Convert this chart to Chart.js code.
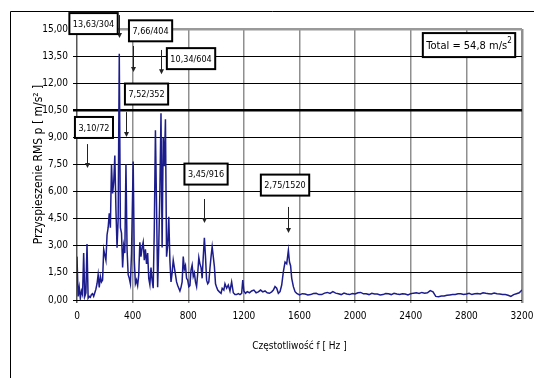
<!DOCTYPE html>
<html>
<head>
<meta charset="utf-8">
<script src="https://cdn.jsdelivr.net/npm/chart.js@4.4.0/dist/chart.umd.min.js"></script>
<style>
  html, body { margin: 0; padding: 0; background: #fff; }
  #wrap { width: 534px; height: 378px; position: relative; }
</style>
</head>
<body>
<div id="wrap"><canvas id="myChart" width="534" height="378"></canvas></div>
<script>
// spectrum: frequency [Hz] and RMS acceleration [m/s2]
var freqHz = [
  0, 8, 16, 24, 32, 40, 48, 56, 64, 72, 80, 88, 96, 104, 112, 120, 128, 136, 144, 152,
  160, 168, 176, 184, 192, 200, 208, 216, 224, 232, 240, 248, 256, 264, 272, 280, 288, 296, 304, 312,
  320, 328, 336, 344, 352, 360, 368, 376, 384, 392, 404, 412, 420, 428, 436, 444, 452, 460, 468, 476,
  484, 492, 500, 508, 516, 524, 532, 540, 548, 556, 564, 572, 580, 588, 596, 604, 612, 620, 628, 636,
  644, 652, 660, 668, 676, 684, 692, 700, 708, 716, 724, 732, 740, 748, 756, 764, 772, 780, 788, 796,
  804, 812, 820, 828, 836, 844, 852, 860, 868, 876, 884, 892, 900, 908, 916, 924, 932, 940, 948, 956,
  964, 972, 980, 988, 996, 1004, 1012, 1024, 1036, 1044, 1056, 1064, 1076, 1088, 1100, 1112, 1124, 1136, 1148, 1160,
  1172, 1184, 1192, 1200, 1212, 1224, 1240, 1256, 1272, 1288, 1304, 1320, 1336, 1352, 1368, 1384, 1400, 1412, 1424, 1436,
  1448, 1460, 1472, 1484, 1496, 1508, 1520, 1528, 1536, 1544, 1556, 1568, 1580, 1600, 1620, 1640, 1660, 1680, 1700, 1720,
  1740, 1760, 1780, 1800, 1820, 1840, 1860, 1880, 1900, 1920, 1940, 1960, 1980, 2000, 2020, 2040, 2060, 2080, 2100, 2120,
  2140, 2160, 2180, 2200, 2220, 2240, 2260, 2280, 2300, 2320, 2340, 2360, 2380, 2400, 2420, 2440, 2460, 2480, 2500, 2520,
  2540, 2560, 2580, 2600, 2620, 2640, 2660, 2680, 2700, 2720, 2740, 2760, 2780, 2800, 2820, 2840, 2860, 2880, 2900, 2920,
  2940, 2960, 2980, 3000, 3020, 3040, 3060, 3080, 3100, 3120, 3140, 3160, 3180, 3200
];
var accRms = [
  2.4, 0.2, 0.7, 0.1, 0.5, 0.3, 2.6, 0.2, 0.4, 3.1, 0.1, 0.2, 0.15, 0.3, 0.35, 0.2, 0.4, 0.6, 0.9, 1.4,
  0.7, 1.3, 1.0, 1.1, 2.8, 2.5, 2.2, 3.6, 4.0, 4.8, 4.0, 7.5, 5.9, 6.5, 8.0, 5.0, 2.9, 4.5, 13.63, 4.0,
  3.7, 1.8, 3.0, 2.6, 7.52, 2.8, 1.4, 1.2, 0.9, 2.6, 7.66, 2.2, 0.9, 1.1, 0.8, 1.4, 3.2, 2.4, 2.9, 3.2,
  2.2, 2.8, 2.0, 2.6, 1.2, 0.85, 1.8, 1.1, 0.65, 4.0, 9.4, 5.2, 0.7, 3.0, 6.0, 10.34, 2.9, 9.0, 7.4, 10.0,
  2.4, 3.0, 4.6, 2.2, 1.0, 1.5, 2.2, 1.8, 1.4, 1.0, 0.8, 0.65, 0.5, 0.7, 1.0, 2.4, 1.7, 1.9, 1.2, 1.1,
  0.74, 0.8, 1.66, 1.94, 1.3, 1.5, 1.0, 0.74, 1.47, 2.35, 2.0, 1.8, 1.2, 2.4, 3.45, 2.4, 1.1, 0.9, 1.0, 1.75,
  2.4, 2.95, 2.4, 1.85, 0.9, 0.7, 0.55, 0.45, 0.37, 0.65, 0.55, 0.9, 0.65, 0.83, 0.5, 1.0, 0.4, 0.3, 0.3, 0.35,
  0.3, 0.37, 1.1, 0.5, 0.37, 0.46, 0.4, 0.5, 0.55, 0.4, 0.45, 0.55, 0.45, 0.5, 0.4, 0.37, 0.45, 0.55, 0.74, 0.65,
  0.37, 0.46, 0.83, 1.57, 2.1, 2.0, 2.75, 2.1, 1.9, 1.2, 0.74, 0.46, 0.37, 0.28, 0.35, 0.33, 0.28, 0.3, 0.36, 0.37,
  0.3, 0.3, 0.38, 0.42, 0.36, 0.46, 0.38, 0.35, 0.3, 0.38, 0.33, 0.3, 0.36, 0.33, 0.4, 0.42, 0.34, 0.35, 0.3, 0.37,
  0.33, 0.33, 0.28, 0.3, 0.36, 0.35, 0.3, 0.37, 0.33, 0.3, 0.35, 0.33, 0.28, 0.35, 0.38, 0.4, 0.36, 0.42, 0.38, 0.4,
  0.52, 0.45, 0.2, 0.18, 0.22, 0.22, 0.26, 0.28, 0.3, 0.3, 0.34, 0.35, 0.3, 0.33, 0.37, 0.3, 0.34, 0.36, 0.33, 0.4,
  0.37, 0.35, 0.33, 0.38, 0.35, 0.33, 0.3, 0.3, 0.26, 0.2, 0.3, 0.35, 0.4, 0.55
];

// labelled peaks
var peakText = ['13,63/304', '7,66/404', '10,34/604', '7,52/352', '3,10/72', '3,45/916', '2,75/1520'];
var peakHz = [304, 404, 604, 352, 72, 916, 1520];
var totalText = 'Total = 54,8 m/s';

// where the label boxes and arrows sit, in axis units
var boxHz = [119, 529, 820, 500, 122, 928, 1496];
var boxVal = [15.3, 14.9, 13.36, 11.4, 9.55, 6.97, 6.36];
var arrowTop = [15.77, 14.06, 13.84, 10.4, 8.63, 5.59, 5.15];
var arrowEnd = [14.5, 12.62, 12.5, 9.02, 7.3, 4.26, 3.71];
var totalHz = 2819, totalVal = 14.11;

var FONT = "'DejaVu Sans Condensed', 'Liberation Sans Narrow', 'Arial Narrow', sans-serif";

var points = [];
for (var i = 0; i < freqHz.length; i++) {
    points.push({ x: freqHz[i], y: accRms[i] });
}

function commaFix(v) {
    return v.toFixed(2).replace('.', ',');
}

function drawBox(ctx, cx, cy, text, font, h) {
    ctx.font = font;
    var w = ctx.measureText(text).width + 7;
    ctx.fillStyle = '#fff';
    ctx.fillRect(cx - w / 2, cy - h / 2, w, h);
    ctx.strokeStyle = '#000';
    ctx.lineWidth = 2;
    ctx.strokeRect(cx - w / 2, cy - h / 2, w, h);
    ctx.fillStyle = '#000';
    ctx.textAlign = 'center';
    ctx.textBaseline = 'middle';
    ctx.fillText(text, cx, cy + 1);
    return w;
}

var framePlugin = {
    id: 'frame',
    beforeDraw: function (chart) {
        var ctx = chart.ctx;
        ctx.save();
        ctx.fillStyle = '#fff';
        ctx.fillRect(0, 0, chart.width, chart.height);
        ctx.strokeStyle = '#000';
        ctx.lineWidth = 1;
        ctx.beginPath();
        ctx.moveTo(10.5, chart.height);
        ctx.lineTo(10.5, 11.5);
        ctx.lineTo(chart.width, 11.5);
        ctx.stroke();
        ctx.restore();
    }
};

var labelPlugin = {
    id: 'peakLabels',
    afterDatasetsDraw: function (chart) {
        var ctx = chart.ctx;
        var xs = chart.scales.x, ys = chart.scales.y;
        ctx.save();
        for (var k = 0; k < peakText.length; k++) {
            var ax = Math.round(xs.getPixelForValue(peakHz[k])) + 0.5;
            var a0 = ys.getPixelForValue(arrowTop[k]);
            var a1 = ys.getPixelForValue(arrowEnd[k]);
            ctx.strokeStyle = '#222';
            ctx.lineWidth = 1;
            ctx.beginPath();
            ctx.moveTo(ax, a0);
            ctx.lineTo(ax, a1 - 4);
            ctx.stroke();
            ctx.fillStyle = '#222';
            ctx.beginPath();
            ctx.moveTo(ax - 2.5, a1 - 5);
            ctx.lineTo(ax + 2.5, a1 - 5);
            ctx.lineTo(ax, a1);
            ctx.closePath();
            ctx.fill();
            drawBox(ctx, xs.getPixelForValue(boxHz[k]), ys.getPixelForValue(boxVal[k]),
                peakText[k], '9px ' + FONT, 21);
        }
        // total box with superscript 2
        var tx = xs.getPixelForValue(totalHz), ty = ys.getPixelForValue(totalVal);
        ctx.font = '11px ' + FONT;
        var tw = ctx.measureText(totalText).width;
        ctx.font = '8px ' + FONT;
        var sw = ctx.measureText('2').width;
        var bw = tw + sw + 7;
        ctx.fillStyle = '#fff';
        ctx.fillRect(tx - bw / 2, ty - 12, bw, 24);
        ctx.strokeStyle = '#000';
        ctx.lineWidth = 2;
        ctx.strokeRect(tx - bw / 2, ty - 12, bw, 24);
        ctx.fillStyle = '#000';
        ctx.textAlign = 'left';
        ctx.textBaseline = 'middle';
        ctx.font = '11px ' + FONT;
        ctx.fillText(totalText, tx - bw / 2 + 3.5, ty + 1);
        ctx.font = '8px ' + FONT;
        ctx.fillText('2', tx - bw / 2 + 3.5 + tw, ty - 4);
        ctx.restore();
    }
};

var data = {
    datasets: [{
        data: points,
        borderColor: '#1c1c8c',
        borderWidth: 1.5,
        pointRadius: 0,
        tension: 0,
        fill: false
    }]
};

var ctx = document.getElementById('myChart').getContext('2d');
var myChart = new Chart(ctx, {
    type: 'line',
    data: data,
    options: {
        responsive: false,
        animation: false,
        layout: { padding: { left: 28, right: 12, top: 29, bottom: 18 } },
        plugins: {
            legend: { display: false },
            tooltip: { enabled: false }
        },
        scales: {
            x: {
                type: 'linear',
                min: 0,
                max: 3200,
                afterFit: function (s) {
                    s.height = 60;
                    s.paddingLeft = 0;
                    s.paddingRight = 0;
                },
                border: { display: false },
                grid: {
                    color: function (c) { return c.tick && c.tick.value === 0 ? '#555' : '#8f8f8f'; },
                    lineWidth: function (c) { return c.tick && c.tick.value === 3200 ? 2.5 : 1.5; },
                    tickLength: 3
                },
                ticks: {
                    stepSize: 400,
                    maxRotation: 0,
                    color: '#000',
                    font: { family: FONT, size: 10 },
                    padding: 7,
                    callback: function (v) { return String(v); }
                },
                title: {
                    display: true,
                    text: 'Częstotliwość f [ Hz ]',
                    color: '#000',
                    font: { family: FONT, size: 10 },
                    padding: { top: 4, bottom: 8 }
                }
            },
            y: {
                min: 0,
                max: 15,
                afterFit: function (s) { s.width = 49; },
                border: { display: false },
                grid: {
                    color: function (c) { return c.tick && c.tick.value === 15 ? '#999' : '#000'; },
                    lineWidth: function (c) {
                        if (!c.tick) return 1;
                        if (c.tick.value === 15) return 2.5;
                        if (Math.abs(c.tick.value - 10.5) < 0.01) return 2.5;
                        return 1;
                    },
                    tickLength: 4
                },
                ticks: {
                    stepSize: 1.5,
                    color: '#000',
                    font: { family: FONT, size: 10 },
                    padding: 5,
                    callback: function (v) { return commaFix(v); }
                },
                title: {
                    display: true,
                    text: 'Przyspieszenie RMS p [ m/s² ]',
                    color: '#000',
                    font: { family: FONT, size: 12 },
                    padding: { top: 4, bottom: 4 }
                }
            }
        }
    },
    plugins: [framePlugin, labelPlugin]
});
</script>
</body>
</html>
